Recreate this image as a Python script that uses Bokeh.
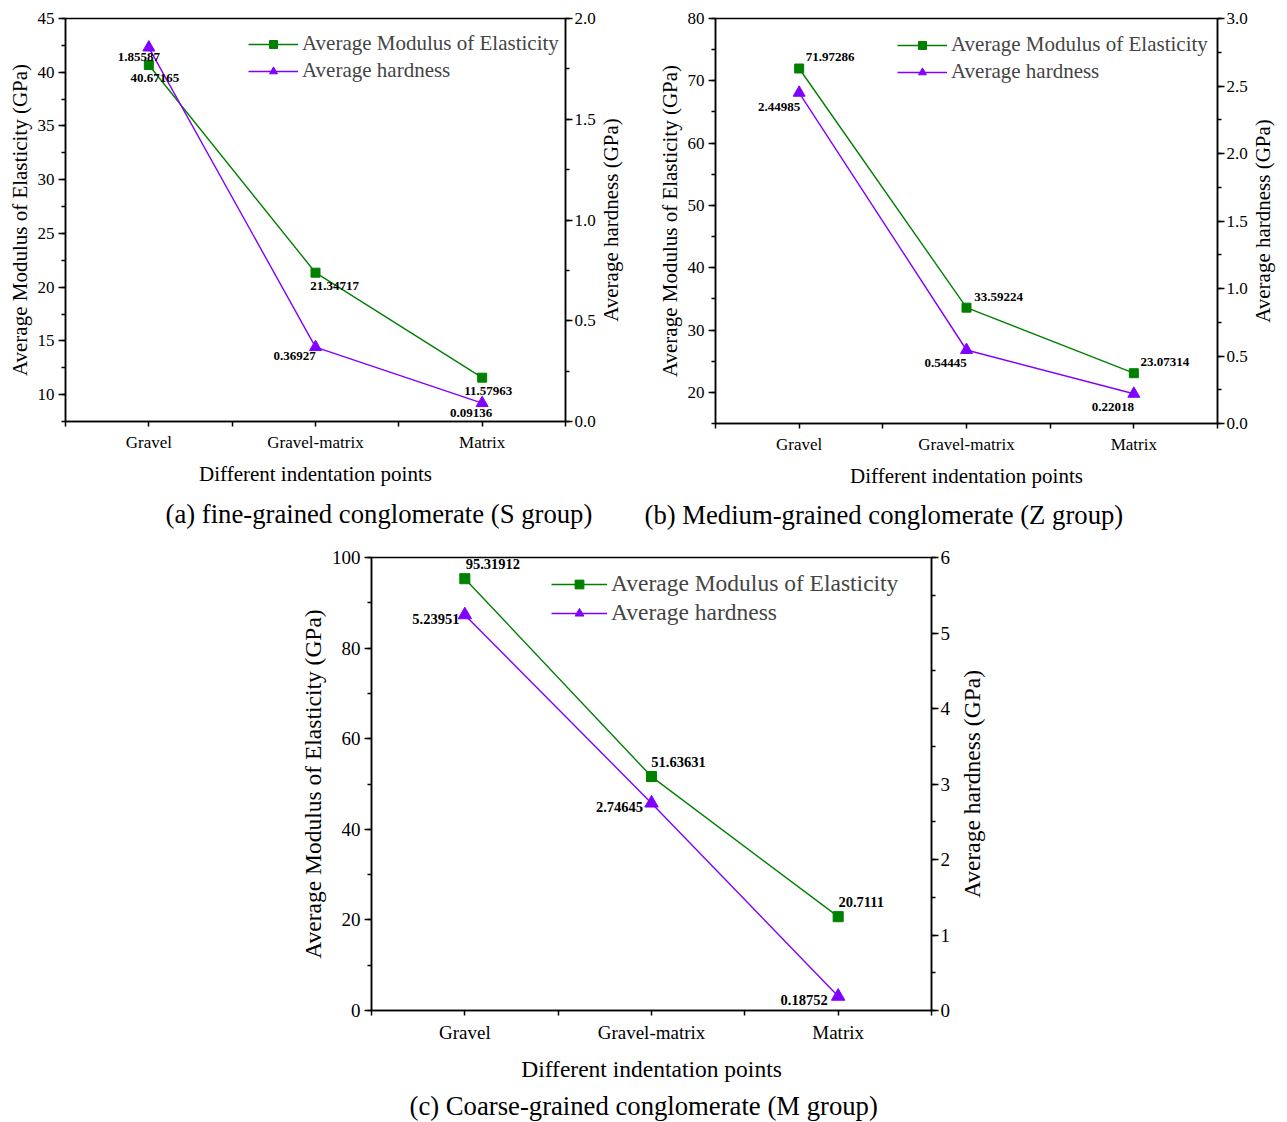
import math
from bokeh.plotting import figure
from bokeh.models import Range1d, LinearAxis, FixedTicker, Title, ColumnDataSource, Spacer
from bokeh.layouts import column, row
from bokeh.embed import file_html
from bokeh.resources import INLINE

# ---------------- data ----------------
points = ["Gravel", "Gravel-matrix", "Matrix"]

s_modulus = [40.67165, 21.34717, 11.57963]
s_hardness = [1.85587, 0.36927, 0.09136]

z_modulus = [71.97286, 33.59224, 23.07314]
z_hardness = [2.44985, 0.54445, 0.22018]

m_modulus = [95.31912, 51.63631, 20.7111]
m_hardness = [5.23951, 2.74645, 0.18752]

s_modulus_ticks = [10, 15, 20, 25, 30, 35, 40, 45]
s_hardness_ticks = [0.0, 0.5, 1.0, 1.5, 2.0]
z_modulus_ticks = [20, 30, 40, 50, 60, 70, 80]
z_hardness_ticks = [0.0, 0.5, 1.0, 1.5, 2.0, 2.5, 3.0]
m_modulus_ticks = [0, 20, 40, 60, 80, 100]
m_hardness_ticks = [0, 1, 2, 3, 4, 5, 6]

captions = ["(a) fine-grained conglomerate (S group)",
            "(b) Medium-grained conglomerate (Z group)",
            "(c) Coarse-grained conglomerate (M group)"]

E_NAME = "Average Modulus of Elasticity"
H_NAME = "Average hardness"
X_TITLE = "Different indentation points"
YL_TITLE = "Average Modulus of Elasticity (GPa)"
YR_TITLE = "Average hardness (GPa)"

FONT = "Liberation Serif"
GREEN = "#008000"
PURPLE = "#8000ff"


def fmt_tick(v, step):
    if step < 1:
        return f"{v:.1f}"
    return f"{int(round(v))}"


def minors(lo, hi, step):
    half = step / 2
    n = int(round((hi - lo) / half))
    return [lo + k * half for k in range(n + 1)]


def make_panel(modulus, hardness, e_ticks, h_ticks, e_range, h_range, e_off, h_off,
               caption, cap_off, fw, fh, bl, br, bt, bb, scale, legend_loc, lbl_size,
               xlab_standoff, cap_standoff):
    tick_fs = f"{17*scale:.1f}px"
    lab_fs = f"{21*scale:.1f}px"
    p = figure(frame_width=fw, frame_height=fh, min_border_left=bl, min_border_right=br,
               min_border_top=bt, min_border_bottom=bb, output_backend="svg",
               toolbar_location=None, title_location=None, x_range=Range1d(0.5, 3.5),
               y_range=Range1d(*e_range))
    p.extra_y_ranges = {"h": Range1d(*h_range)}
    p.grid.visible = False
    p.outline_line_color = "black"
    p.outline_line_width = 1.5
    p.background_fill_color = "white"

    xs = [i + 1 for i in range(len(points))]

    xa = p.xaxis[0]
    xa.ticker = FixedTicker(ticks=xs, minor_ticks=[0.5 + i for i in range(len(points) + 1)])
    xa.major_label_overrides = {x: n for x, n in zip(xs, points)}
    ya = p.yaxis[0]
    e_step = e_ticks[1] - e_ticks[0]
    ya.ticker = FixedTicker(ticks=e_ticks, minor_ticks=minors(e_range[0], e_range[1], e_step))
    ya.major_label_overrides = {t: fmt_tick(t, e_step) for t in e_ticks}
    h_step = h_ticks[1] - h_ticks[0]
    ra = LinearAxis(y_range_name="h",
                    ticker=FixedTicker(ticks=h_ticks, minor_ticks=minors(h_range[0], h_range[1], h_step)))
    ra.major_label_overrides = {t: fmt_tick(t, h_step) for t in h_ticks}
    p.add_layout(ra, "right")

    xa.axis_label = X_TITLE
    ya.axis_label = YL_TITLE
    for ax in (xa, ya, ra):
        ax.axis_line_color = "black"
        ax.axis_line_width = 1.5
        ax.major_tick_line_color = "black"
        ax.minor_tick_line_color = "black"
        ax.major_tick_line_width = 1.5
        ax.minor_tick_line_width = 1.5
        ax.major_tick_in = 0
        ax.minor_tick_in = 0
        ax.major_label_text_font = FONT
        ax.major_label_text_font_size = tick_fs
        ax.major_label_text_color = "black"
        ax.axis_label_text_font = FONT
        ax.axis_label_text_font_size = lab_fs
        ax.axis_label_text_font_style = "normal"
        ax.axis_label_text_color = "black"
    xa.major_tick_out = 5
    xa.minor_tick_out = 5
    ya.major_tick_out = 7
    ya.minor_tick_out = 4
    ra.major_tick_out = 7
    ra.minor_tick_out = 4
    xa.major_label_standoff = 6
    xa.axis_label_standoff = xlab_standoff
    ya.major_label_standoff = 4
    ya.axis_label_standoff = 3
    ra.major_label_standoff = 2

    src = ColumnDataSource(dict(
        x=xs, e=modulus, h=hardness,
        et=[f"{v}" for v in modulus], ht=[f"{v}" for v in hardness],
        ex=[o[0] for o in e_off], ey=[o[1] for o in e_off],
        hx=[o[0] for o in h_off], hy=[o[1] for o in h_off]))
    lw = 1.4
    p.line("x", "e", source=src, color=GREEN, line_width=lw, legend_label=E_NAME)
    p.scatter("x", "e", source=src, marker="square", size=9 * scale, color=GREEN,
              legend_label=E_NAME)
    p.line("x", "h", source=src, color=PURPLE, line_width=lw, y_range_name="h",
           legend_label=H_NAME)
    p.scatter("x", "h", source=src, marker="triangle", size=12 * scale, color=PURPLE,
              y_range_name="h", legend_label=H_NAME)

    t1 = p.text("x", "e", text="et", source=src, x_offset="ex", y_offset="ey",
                text_align="center", text_baseline="middle",
                text_font_size=lbl_size, text_font_style="bold", text_color="black")
    t1.glyph.text_font = FONT
    t2 = p.text("x", "h", text="ht", source=src, x_offset="hx", y_offset="hy",
                text_align="center", text_baseline="middle", y_range_name="h",
                text_font_size=lbl_size, text_font_style="bold", text_color="black")
    t2.glyph.text_font = FONT

    lg = p.legend[0]
    lg.location = legend_loc
    lg.border_line_color = None
    lg.background_fill_alpha = 0
    lg.padding = 0
    lg.margin = 0
    lg.spacing = int(round(2 * scale))
    lg.label_text_font = FONT
    lg.label_text_font_size = lab_fs
    lg.glyph_width = int(50 * scale)
    lg.glyph_height = int(20 * scale)
    lg.label_standoff = int(4 * scale)
    lg.label_height = int(24 * scale)

    p.add_layout(Title(text=caption, align="left", offset=cap_off, text_font=FONT,
                       text_font_size="26.7px", text_font_style="normal",
                       text_color="black", standoff=cap_standoff), "below")
    return p


def side_title(text, fs, w, bt, fh, bb, dx):
    f = figure(frame_width=w, frame_height=fh, min_border_left=0, min_border_right=0,
               min_border_top=bt, min_border_bottom=bb, x_range=Range1d(0, 1),
               y_range=Range1d(0, 1), x_axis_location=None, y_axis_location=None,
               title_location=None, output_backend="svg", toolbar_location=None)
    f.grid.visible = False
    f.outline_line_color = None
    f.text(x=[0.5], y=[0.5], text=[text], angle=90, angle_units="deg", x_offset=dx,
           text_align="center", text_baseline="middle", text_font_size=fs,
           text_color="black").glyph.text_font = FONT
    return f


p1 = make_panel(s_modulus, s_hardness, s_modulus_ticks, s_hardness_ticks,
                (7.5, 45), (0.0, 2.0),
                [(6, 13), (19, 13), (6, 13)], [(-10, 9), (-21, 9), (-11, 10)],
                captions[0], 100, 500, 403, 65, 34, 18, 124, 1.0, (183, 338), "13px",
                7, 17)
r1 = side_title(YR_TITLE, "21px", 28, 18, 403, 124, -3)
p2 = make_panel(z_modulus, z_hardness, z_modulus_ticks, z_hardness_ticks,
                (15, 80), (0.0, 3.0),
                [(31, -12), (32, -11), (31, -11)], [(-20, 14), (-21, 13), (-21, 13)],
                captions[1], -71, 502, 405, 88, 34, 18, 122, 1.0, (182, 339), "13px",
                7, 15)
r2 = side_title(YR_TITLE, "21px", 28, 18, 405, 122, -3)
p3 = make_panel(m_modulus, m_hardness, m_modulus_ticks, m_hardness_ticks,
                (0, 100), (0, 6),
                [(28, -15), (27, -15), (23, -15)], [(-29, 4), (-32, 4), (-34, 4)],
                captions[2], 38, 560, 453, 72, 22, 12, 104, 1.12, (180, 384), "14.5px",
                10, 8)
r3 = side_title(YR_TITLE, "23.5px", 36, 12, 453, 104, 0)

layout = column(row(p1, r1, p2, r2), row(Spacer(width=296, height=10), p3, r3))

with open("out.html", "w") as f:
    f.write(file_html(layout, INLINE))
